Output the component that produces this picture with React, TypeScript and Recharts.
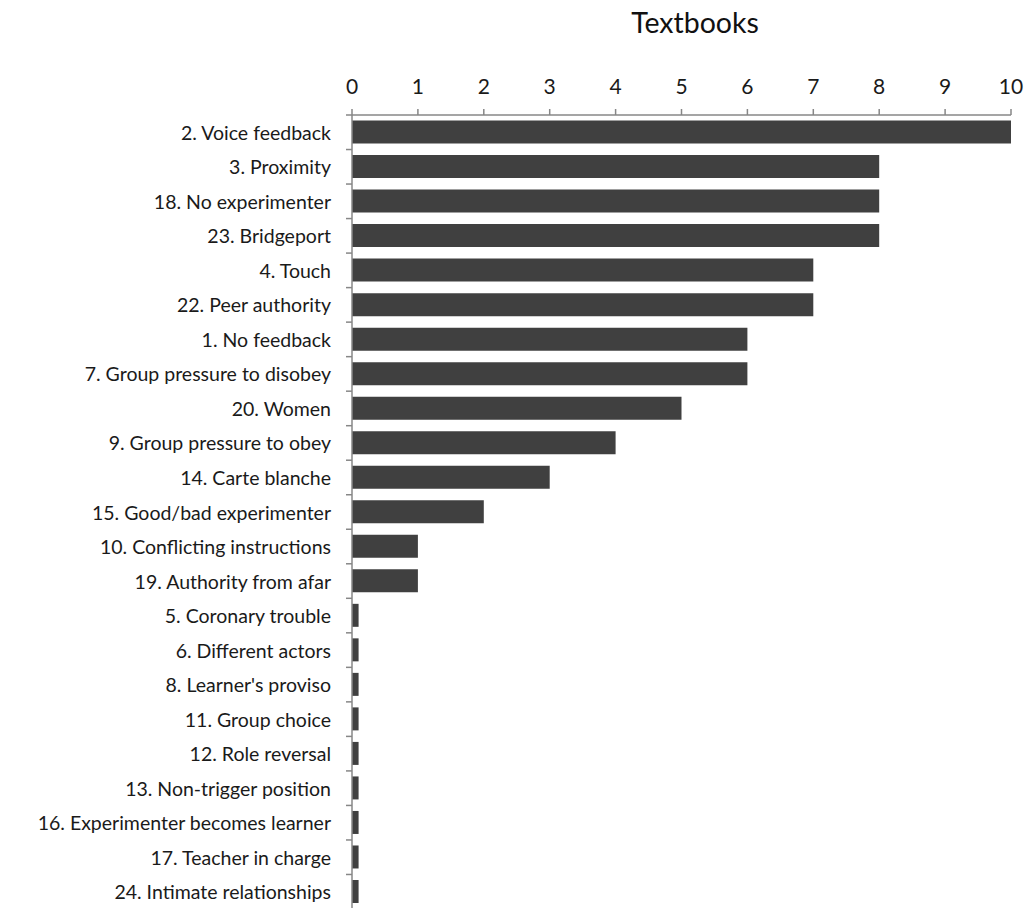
import React from "react";
import { BarChart, Bar, XAxis, YAxis } from "recharts";

const categories = [
  "2. Voice feedback",
  "3. Proximity",
  "18. No experimenter",
  "23. Bridgeport",
  "4. Touch",
  "22. Peer authority",
  "1. No feedback",
  "7. Group pressure to disobey",
  "20. Women",
  "9. Group pressure to obey",
  "14. Carte blanche",
  "15. Good/bad experimenter",
  "10. Conflicting instructions",
  "19. Authority from afar",
  "5. Coronary trouble",
  "6. Different actors",
  "8. Learner's proviso",
  "11. Group choice",
  "12. Role reversal",
  "13. Non-trigger position",
  "16. Experimenter becomes learner",
  "17. Teacher in charge",
  "24. Intimate relationships",
];
const values = [10, 8, 8, 8, 7, 7, 6, 6, 5, 4, 3, 2, 1, 1, 0.1, 0.1, 0.1, 0.1, 0.1, 0.1, 0.1, 0.1, 0.1];
const xTicks = [0, 1, 2, 3, 4, 5, 6, 7, 8, 9, 10];
const title = "Textbooks";

const data = categories.map((c, i) => ({ name: c, value: values[i] }));

const W = 1024;
const H = 908;
const MARGIN = { top: 75, right: 13, bottom: 0, left: 0 };
const X_AXIS_H = 40;
const Y_AXIS_W = 352;
const TICK_SIZE = 6;
const TICK_MARGIN = 15;
const FONT = "Lato, 'Open Sans', sans-serif";
const AXIS_COLOR = "#878787";
const plotTop = MARGIN.top + X_AXIS_H;
const band = (H + 1 - plotTop) / categories.length;

const YTick = (props: any) => {
  const { x, y, payload } = props;
  const lineX = x + TICK_MARGIN;
  return (
    <g>
      <text
        x={x}
        y={y}
        textAnchor="end"
        dominantBaseline="central"
        fontSize={19.5}
        fontFamily={FONT}
        fill="#1a1a1a"
      >
        {payload.value}
      </text>
      <line
        x1={lineX}
        x2={lineX + TICK_SIZE}
        y1={y - band / 2}
        y2={y - band / 2}
        stroke={AXIS_COLOR}
        strokeWidth={1.5}
      />
    </g>
  );
};

export default function App() {
  return (
    <div style={{ position: "absolute", left: 0, top: 0, width: W, height: H, background: "#fff" }}>
      <BarChart
        width={W}
        height={H + 1}
        data={data}
        layout="vertical"
        margin={MARGIN}
        barCategoryGap="16%"
      >
        <text
          x={695}
          y={22}
          textAnchor="middle"
          dominantBaseline="central"
          fontSize={28.5}
          fontFamily={FONT}
          fill="#111"
        >
          {title}
        </text>
        <XAxis
          type="number"
          orientation="top"
          domain={[0, 10]}
          ticks={xTicks}
          height={X_AXIS_H}
          tickSize={TICK_SIZE}
          tickMargin={15}
          axisLine={{ stroke: AXIS_COLOR, strokeWidth: 1.5 }}
          tickLine={{ stroke: AXIS_COLOR, strokeWidth: 1.5 }}
          tick={{ fontSize: 21, fontFamily: FONT, fill: "#1a1a1a" }}
          interval={0}
        />
        <YAxis
          type="category"
          dataKey="name"
          width={Y_AXIS_W}
          tickSize={TICK_SIZE}
          tickMargin={TICK_MARGIN}
          tickLine={false}
          axisLine={{ stroke: AXIS_COLOR, strokeWidth: 1.5 }}
          tick={<YTick />}
          interval={0}
        />
        <Bar dataKey="value" fill="#404040" isAnimationActive={false} />
      </BarChart>
    </div>
  );
}
